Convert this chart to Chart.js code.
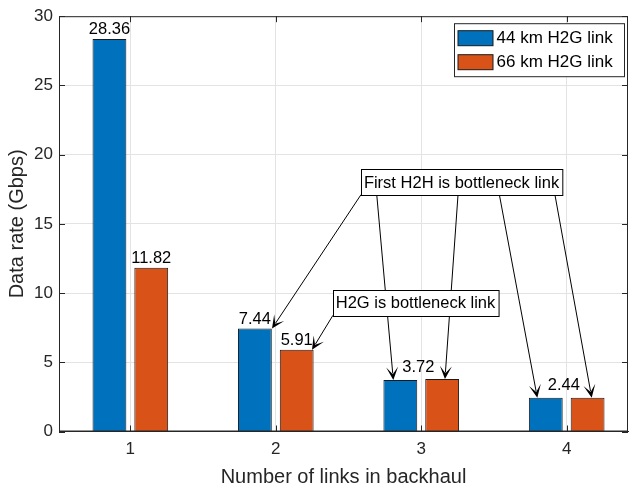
<!DOCTYPE html>
<html>
<head>
<meta charset="utf-8">
<script src="https://cdn.jsdelivr.net/npm/chart.js@4"></script>
<style>
  html, body { margin: 0; padding: 0; background: #fff; }
</style>
</head>
<body>
<canvas id="rateChart" width="634" height="492"></canvas>
<script>
const links = [1, 2, 3, 4];
const rate44 = [28.36, 7.44, 3.72, 2.44];
const rate66 = [11.82, 5.91, 3.79, 2.44];
const seriesNames = ["44 km H2G link", "66 km H2G link"];
const yTicks = [0, 5, 10, 15, 20, 25, 30];

// labels written above the bars (null = none)
const barLabels44 = ["28.36", "7.44", null, null];
const barLabels66 = ["11.82", "5.91", null, null];
// labels placed by hand, in data units
const freeLabels = [
  { text: "3.72", x: 2.98, y: rate44[2] },
  { text: "2.44", x: 3.98, y: rate44[3] },
];

// annotation boxes (centre in data units) and their arrows
const noteH2H = { text: "First H2H is bottleneck link", x: 3.277, y: 18.0 };
const noteH2G = { text: "H2G is bottleneck link", x: 2.9605, y: 9.315 };
const arrowsH2H = [
  [[2.586, 17.11], [1.974, rate44[1]]],
  [[2.694, 17.11], [2.808, rate44[2]]],
  [[3.253, 17.11], [3.163, rate66[2]]],
  [[3.537, 17.11], [3.798, rate44[3]]],
  [[3.919, 17.11], [4.172, rate66[3]]],
];
const arrowsH2G = [
  [[2.393, 8.394], [2.249, rate66[1]]],
];

const FONT = "'Liberation Sans', Arial, Helvetica, sans-serif";
const AXIS = "#262626";
const BLUE = "#0072BD";
const ORANGE = "#D95319";

function drawArrow(c, x0, y0, x1, y1) {
  const ang = Math.atan2(y1 - y0, x1 - x0);
  const L = 13, W = 6;
  c.beginPath();
  c.moveTo(x0, y0);
  c.lineTo(x1 - Math.cos(ang) * L * 0.5, y1 - Math.sin(ang) * L * 0.5);
  c.stroke();
  c.save();
  c.translate(x1, y1);
  c.rotate(ang);
  c.beginPath();
  c.moveTo(0, 0);
  c.lineTo(-L, -W);
  c.lineTo(-L * 0.45, 0);
  c.lineTo(-L, W);
  c.closePath();
  c.fill();
  c.restore();
}

function drawNote(c, note, xs, ys) {
  c.font = "16.5px " + FONT;
  const w = c.measureText(note.text).width + 6;
  const h = 26;
  const cx = xs.getPixelForValue(note.x);
  const cy = ys.getPixelForValue(note.y);
  const x = Math.round(cx - w / 2) + 0.5, y = Math.round(cy - h / 2) + 0.5;
  c.fillStyle = "#fff";
  c.fillRect(x, y, w, h);
  c.strokeStyle = "#000";
  c.lineWidth = 1;
  c.strokeRect(x, y, w, h);
  c.fillStyle = "#000";
  c.textAlign = "center";
  c.textBaseline = "middle";
  c.fillText(note.text, cx, cy + 1);
}

const extras = {
  id: "extras",
  afterDatasetsDraw(chart) {
    const c = chart.ctx;
    const a = chart.chartArea;
    const xs = chart.scales.x, ys = chart.scales.y;
    c.save();

    // box + inward tick marks
    c.strokeStyle = AXIS;
    c.lineWidth = 1;
    c.strokeRect(a.left + 0.5, a.top + 0.5, a.right - a.left - 1, a.bottom - a.top - 1);
    c.beginPath();
    links.forEach(v => {
      const px = Math.round(xs.getPixelForValue(v)) + 0.5;
      c.moveTo(px, a.bottom); c.lineTo(px, a.bottom - 6);
      c.moveTo(px, a.top); c.lineTo(px, a.top + 6);
    });
    yTicks.forEach(v => {
      const py = Math.round(ys.getPixelForValue(v)) + 0.5;
      c.moveTo(a.left, py); c.lineTo(a.left + 6, py);
      c.moveTo(a.right, py); c.lineTo(a.right - 6, py);
    });
    c.stroke();

    // value labels
    c.fillStyle = "#000";
    c.font = "16.5px " + FONT;
    c.textAlign = "center";
    c.textBaseline = "bottom";
    [barLabels44, barLabels66].forEach((labels, d) => {
      const meta = chart.getDatasetMeta(d);
      labels.forEach((t, i) => {
        if (!t) return;
        const bar = meta.data[i];
        c.fillText(t, bar.x, bar.y - 1);
      });
    });
    freeLabels.forEach(l => {
      c.fillText(l.text, xs.getPixelForValue(l.x), ys.getPixelForValue(l.y) - 4);
    });

    // arrows, then text boxes on top
    c.strokeStyle = "#000";
    c.fillStyle = "#000";
    c.lineWidth = 1;
    arrowsH2H.concat(arrowsH2G).forEach(([p, q]) => {
      drawArrow(c, xs.getPixelForValue(p[0]), ys.getPixelForValue(p[1]),
        xs.getPixelForValue(q[0]), ys.getPixelForValue(q[1]));
    });
    drawNote(c, noteH2H, xs, ys);
    drawNote(c, noteH2G, xs, ys);

    // legend
    const lx = a.right - 173.5, ly = a.top + 7.5, lw = 170, lh = 53;
    c.fillStyle = "#fff";
    c.fillRect(lx, ly, lw, lh);
    c.strokeStyle = AXIS;
    c.strokeRect(lx, ly, lw, lh);
    c.font = "17px " + FONT;
    c.textAlign = "left";
    c.textBaseline = "middle";
    chart.data.datasets.forEach((ds, i) => {
      const rowY = ly + 14 + i * 24;
      c.fillStyle = ds.backgroundColor;
      c.fillRect(lx + 3.5, rowY - 7, 35, 15);
      c.strokeStyle = "#1a1a1a";
      c.strokeRect(lx + 3.5, rowY - 7, 35, 15);
      c.fillStyle = "#000";
      c.fillText(ds.label, lx + 42, rowY + 1);
    });
    c.restore();
  }
};

new Chart(document.getElementById("rateChart"), {
  type: "bar",
  data: {
    datasets: [
      {
        label: seriesNames[0],
        data: links.map((x, i) => ({ x: x, y: rate44[i] })),
        backgroundColor: BLUE,
        borderColor: "#1a1a1a",
        borderWidth: 1,
      },
      {
        label: seriesNames[1],
        data: links.map((x, i) => ({ x: x, y: rate66[i] })),
        backgroundColor: ORANGE,
        borderColor: "#1a1a1a",
        borderWidth: 1,
      },
    ],
  },
  options: {
    responsive: false,
    animation: false,
    layout: { padding: { top: 8, right: 6, left: 0, bottom: 0 } },
    datasets: { bar: { categoryPercentage: 0.575, barPercentage: 0.809 } },
    plugins: { legend: { display: false }, tooltip: { enabled: false } },
    scales: {
      x: {
        type: "linear",
        offset: false,
        min: 0.5095,
        max: 4.4215,
        afterBuildTicks: (s) => { s.ticks = links.map(v => ({ value: v })); },
        afterFit: (s) => { s.height = 60.5; },
        grid: { color: "#e3e3e3", drawTicks: false, offset: false },
        border: { color: AXIS },
        ticks: { padding: 8, color: AXIS, font: { family: FONT, size: 17 } },
        title: {
          display: true,
          text: "Number of links in backhaul",
          color: AXIS,
          font: { family: FONT, size: 20 },
          padding: { top: 0, bottom: 3 },
        },
      },
      y: {
        min: 0,
        max: 30,
        afterBuildTicks: (s) => { s.ticks = yTicks.map(v => ({ value: v })); },
        afterFit: (s) => { s.width = 59; },
        grid: { color: "#e3e3e3", drawTicks: false },
        border: { color: AXIS },
        ticks: { padding: 6, color: AXIS, font: { family: FONT, size: 17 } },
        title: {
          display: true,
          text: "Data rate (Gbps)",
          color: AXIS,
          font: { family: FONT, size: 20 },
          padding: { top: 5.5, bottom: 0 },
        },
      },
    },
  },
  plugins: [extras],
});
</script>
</body>
</html>
